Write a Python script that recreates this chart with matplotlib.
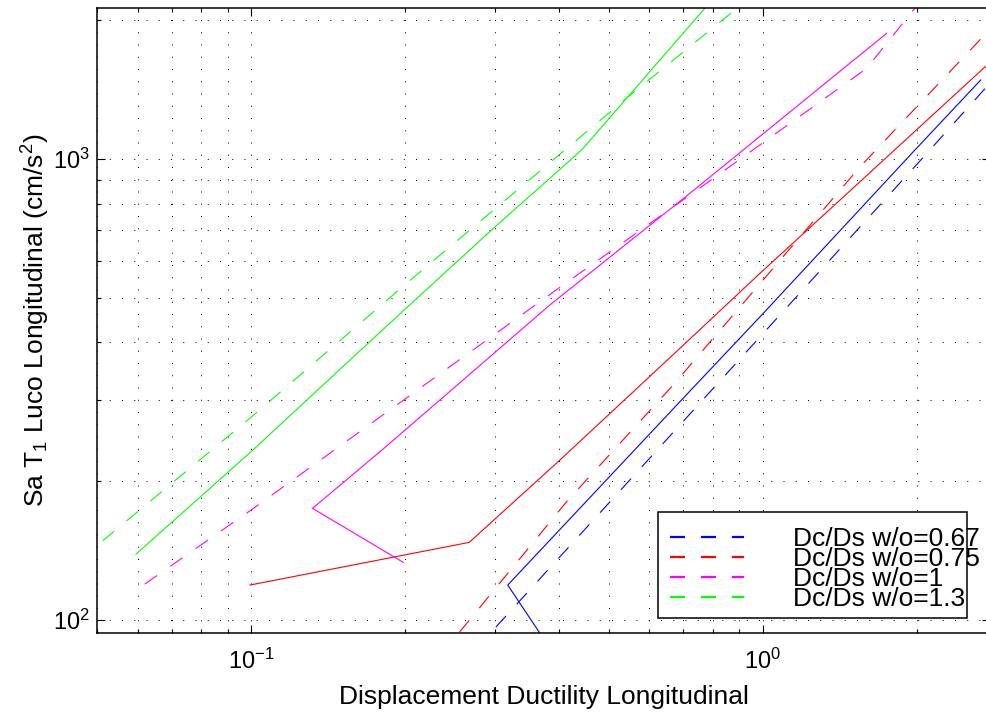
import matplotlib
matplotlib.use("Agg")
import matplotlib.pyplot as plt
import matplotlib.ticker as mtick
from matplotlib.patches import Rectangle

plt.rcParams['font.family'] = ['Liberation Sans', 'DejaVu Sans']
plt.rcParams['mathtext.fontset'] = 'custom'
plt.rcParams['mathtext.rm'] = 'Liberation Sans'
plt.rcParams['mathtext.it'] = 'Liberation Sans:italic'
plt.rcParams['lines.scale_dashes'] = False

# ductility (x) / Sa (y)
blue_solid_x = [0.386, 0.3175, 0.6891, 1.003, 1.97, 2.668]
blue_solid_y = [86.1, 119.1, 297.6, 462.8, 1037, 1484]
blue_dash_x = [0.274, 0.6891, 2.06, 3.0]
blue_dash_y = [86.1, 264.9, 1008.5, 1604]

red_solid_x = [0.0995, 0.267, 0.4016, 0.6891, 0.988, 1.55, 2.732, 3.0]
red_solid_y = [119.1, 147.4, 222.4, 388.5, 565, 893, 1591, 1751]
red_dash_x = [0.234, 0.4139, 0.6686, 1.55, 2.62, 3.0]
red_dash_y = [83.6, 180.6, 323.5, 962, 1782, 2099]

mag_solid_x = [0.1984, 0.1319, 0.1787, 0.3838, 0.7208, 1.748]
mag_solid_y = [133.4, 174.7, 231.8, 482.4, 842.6, 1874]
mag_dash_x = [0.062, 0.1, 0.4047, 0.7317, 1.597, 2.03]
mag_dash_y = [119.7, 173.2, 530.3, 845, 1573, 2194]

grn_solid_x = [0.0596, 0.1, 0.1897, 0.3, 0.4428, 0.8]
grn_solid_y = [139, 231.8, 447.6, 713, 1046, 2226]
grn_dash_x = [0.0513, 0.1, 0.2014, 0.3838, 0.5461, 0.8503, 0.903]
grn_dash_y = [148.6, 275.3, 537.7, 982, 1365, 2036, 2148]

labels = ['Dc/Ds w/o=0.67', 'Dc/Ds w/o=0.75', 'Dc/Ds w/o=1', 'Dc/Ds w/o=1.3']
colors = ['#0000ff', '#ff0000', '#ff00ff', '#00ff00']

fig = plt.figure(figsize=(9.86, 7.12), dpi=100)
ax = fig.add_axes([0.09838, 0.11053, 0.90568, 0.87823])

dash = (0, (10.8, 11.5))
lw = 0.8
ax.plot(blue_dash_x, blue_dash_y, color=colors[0], lw=lw, linestyle=dash, label=labels[0])
ax.plot(red_dash_x, red_dash_y, color=colors[1], lw=lw, linestyle=dash, label=labels[1])
ax.plot(mag_dash_x, mag_dash_y, color=colors[2], lw=lw, linestyle=dash, label=labels[2])
ax.plot(grn_dash_x, grn_dash_y, color=colors[3], lw=lw, linestyle=dash, label=labels[3])
ax.plot(blue_solid_x, blue_solid_y, color=colors[0], lw=lw)
ax.plot(red_solid_x, red_solid_y, color=colors[1], lw=lw)
ax.plot(mag_solid_x, mag_solid_y, color=colors[2], lw=lw)
ax.plot(grn_solid_x, grn_solid_y, color=colors[3], lw=lw)

ax.set_xscale('log')
ax.set_yscale('log')
ax.set_xlim(0.05, 2.782)
ax.set_ylim(93.6, 2126)
ax.xaxis.set_minor_formatter(mtick.NullFormatter())
ax.yaxis.set_minor_formatter(mtick.NullFormatter())

ax.grid(True, which='both', color='k', linestyle=(0, (0.72, 8.1)), linewidth=0.72)
ax.tick_params(which='both', direction='in', top=True, right=True, labelsize=17, width=0.8)
ax.tick_params(which='major', length=5.8)
ax.tick_params(which='minor', length=2.9)
ax.tick_params(axis='x', pad=11)
ax.tick_params(axis='y', pad=5)
for s in ax.spines.values():
    s.set_linewidth(1.1)

ax.set_xlabel('Displacement Ductility Longitudinal', fontsize=19)
ax.set_ylabel('Sa T$_1$ Luco Longitudinal (cm/s$^2$)', fontsize=19)
ax.xaxis.set_label_coords(0.5, -0.083)
ax.yaxis.set_label_coords(-0.05, 0.5)

ax.add_patch(Rectangle((0.6282, 0.02495), 0.346, 0.16825, transform=ax.transAxes,
                       facecolor='white', edgecolor='k', lw=1.1, zorder=4.5))
leg = ax.legend(loc='center left', bbox_to_anchor=(0.6417, 0.1028), frameon=False,
                fontsize=19, borderpad=0, borderaxespad=0, handlelength=2.8,
                handletextpad=1.85, labelspacing=-0.15)
for h in leg.legend_handles:
    h.set_linewidth(1.6)
leg.set_zorder(5)

fig.savefig('out.png', dpi=100)
